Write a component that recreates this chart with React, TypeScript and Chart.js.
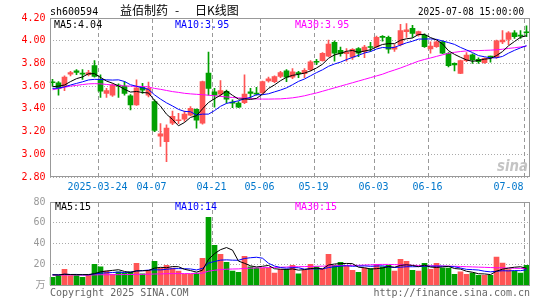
import React, { useEffect, useRef } from 'react';
import { Chart, registerables } from 'chart.js';
Chart.register(...registerables);

// ---------- data ----------
const dates = [
  '03-12','03-13','03-14','03-17','03-18','03-19','03-20','03-21','03-24','03-25',
  '03-26','03-27','03-28','03-31','04-01','04-02','04-03','04-07','04-08','04-09',
  '04-10','04-11','04-14','04-15','04-16','04-17','04-18','04-21','04-22','04-23',
  '04-24','04-25','04-28','04-29','04-30','05-06','05-07','05-08','05-09','05-12',
  '05-13','05-14','05-15','05-16','05-19','05-20','05-21','05-22','05-23','05-26',
  '05-27','05-28','05-29','05-30','06-03','06-04','06-05','06-06','06-09','06-10',
  '06-11','06-12','06-13','06-16','06-17','06-18','06-19','06-20','06-23','06-24',
  '06-25','06-26','06-27','06-30','07-01','07-02','07-03','07-04','07-07','07-08',
];

const opens = [
  3.635,3.63,3.60,3.705,3.735,3.715,3.70,3.78,3.655,3.535,
  3.52,3.605,3.60,3.515,3.435,3.59,3.52,3.465,3.16,3.11,
  3.275,3.295,3.31,3.345,3.395,3.275,3.715,3.55,3.53,3.555,
  3.455,3.45,3.455,3.55,3.535,3.54,3.645,3.64,3.685,3.735,
  3.68,3.72,3.71,3.745,3.815,3.825,3.865,3.985,3.915,3.885,
  3.855,3.93,3.905,3.945,3.945,4.035,4.03,3.925,3.965,4.08,
  4.11,4.05,4.05,3.927,3.947,3.99,3.89,3.80,3.713,3.824,
  3.875,3.835,3.806,3.86,3.854,3.99,4.012,4.07,4.045,4.075,
];
const highs = [
  3.66,3.64,3.69,3.73,3.745,3.745,3.74,3.825,3.70,3.58,
  3.62,3.62,3.64,3.525,3.655,3.625,3.635,3.48,3.27,3.26,
  3.38,3.36,3.38,3.42,3.40,3.645,3.90,3.58,3.65,3.565,
  3.48,3.465,3.70,3.58,3.59,3.645,3.68,3.69,3.73,3.745,
  3.755,3.73,3.755,3.825,3.835,3.895,4.005,4.00,3.945,3.93,
  3.93,3.94,3.96,3.985,4.04,4.045,4.04,3.965,4.145,4.15,
  4.135,4.085,4.06,3.99,4.00,4.00,3.895,3.805,3.83,3.895,
  3.885,3.85,3.85,3.865,4.005,4.09,4.08,4.09,4.09,4.13,
];
const lows = [
  3.60,3.52,3.56,3.69,3.70,3.66,3.69,3.68,3.50,3.50,
  3.51,3.50,3.52,3.39,3.43,3.535,3.505,3.20,3.07,2.935,
  3.26,3.27,3.29,3.34,3.23,3.265,3.52,3.415,3.51,3.45,
  3.41,3.41,3.445,3.49,3.52,3.535,3.635,3.63,3.675,3.64,
  3.665,3.675,3.675,3.735,3.79,3.82,3.86,3.82,3.865,3.82,
  3.835,3.86,3.85,3.905,3.94,3.995,3.89,3.905,3.955,4.03,
  4.03,4.04,3.94,3.89,3.94,3.885,3.77,3.735,3.71,3.815,
  3.80,3.80,3.80,3.81,3.845,3.975,3.965,4.02,4.02,4.035,
];
const closes = [
  3.63,3.58,3.68,3.72,3.72,3.705,3.72,3.685,3.555,3.56,
  3.61,3.60,3.535,3.435,3.585,3.565,3.58,3.21,3.18,3.23,
  3.335,3.30,3.355,3.405,3.30,3.64,3.58,3.52,3.56,3.485,
  3.45,3.415,3.53,3.535,3.53,3.64,3.665,3.685,3.72,3.68,
  3.725,3.71,3.74,3.815,3.81,3.89,3.97,3.89,3.885,3.90,
  3.925,3.89,3.945,3.94,4.03,4.03,3.925,3.945,4.09,4.095,
  4.065,4.08,3.947,3.953,3.99,3.89,3.78,3.786,3.824,3.874,
  3.83,3.815,3.845,3.855,4.0,4.006,4.07,4.035,4.04,4.07,
];
// closes of the sessions just before the window (for the start of MA5 / MA10)
const priorCloses = [3.55,3.57,3.56,3.58,3.565,3.555,3.63,3.57,3.59];

const priceMA30 = [
  3.568,3.578,3.59,3.60,3.607,3.614,3.62,3.622,3.62,3.615,
  3.61,3.605,3.602,3.60,3.598,3.597,3.593,3.58,3.572,3.562,
  3.552,3.545,3.537,3.532,3.528,3.525,3.52,3.515,3.51,3.505,
  3.50,3.497,3.494,3.49,3.487,3.486,3.486,3.487,3.488,3.492,
  3.497,3.505,3.515,3.528,3.54,3.555,3.57,3.585,3.60,3.615,
  3.63,3.645,3.66,3.675,3.69,3.705,3.725,3.742,3.76,3.78,
  3.80,3.82,3.835,3.848,3.862,3.876,3.888,3.898,3.905,3.91,
  3.912,3.913,3.915,3.917,3.92,3.925,3.932,3.938,3.945,3.952,
];

const volumes = [
  7.9,9.5,15.6,9.5,9.5,7.9,9.8,20.3,17.8,13.7,
  10.8,13,12,13,21.3,11.1,14.6,23.2,16.8,19.4,
  16.8,13.7,10.8,10.8,12,26,65.4,38.4,29.8,22.2,
  13.7,12.7,27.9,17.8,16.8,16.8,16.8,12,15.6,15.6,
  19.4,11.1,14.6,20.3,17.8,15.6,29.8,19.4,22.2,18.7,
  14.6,12.7,16.8,16.2,20.3,17.8,19.4,13.7,25.1,23.2,
  14.6,13.7,21.3,15.6,21.3,16.8,16.8,10.8,13,10.8,
  12,9.8,9.8,9.8,27.2,21.5,15.2,13.9,12,19.3,
];
const priorVolumes = [11,10,12,9,11,10,12,11,10];
const volMA30 = [
  10.0,10.0,10.1,10.1,10.1,10.0,10.0,10.2,10.3,10.3,
  10.4,10.4,10.5,10.5,10.7,10.7,10.8,11.0,11.1,11.3,
  11.4,11.4,11.4,11.4,11.5,11.9,13.7,14.6,15.2,15.6,
  15.8,15.9,16.4,16.6,16.8,17.0,17.2,17.3,17.5,17.7,
  17.9,18.0,18.1,18.3,18.4,18.5,18.8,18.9,19.1,19.2,
  19.3,19.3,19.6,19.8,20.1,20.2,20.2,20.0,19.9,19.7,
  19.4,19.2,19.0,18.9,18.8,18.7,18.6,18.4,18.2,18.0,
  17.8,17.6,17.4,17.2,17.0,16.9,16.7,16.5,16.4,16.2,
];

const xTickIdx = [8, 17, 27, 35, 44, 54, 63, 79];
const xTickText = ['2025-03-24', '04-07', '04-21', '05-06', '05-19', '06-03', '06-16', '07-08'];
const priceLegend = ['MA5:4.04', 'MA10:3.95', 'MA30:3.95'];
const volLegend = ['MA5:15', 'MA10:14', 'MA30:15'];
const titleCode = 'sh600594';
const titleName = '益佰制药';
const titleKind = '日K线图';
const titleTime = '2025-07-08 15:00:00';

// ---------- style ----------
const UP = '#ff5555';
const DOWN = '#00a000';
const MA_COLORS = ['#000000', '#0000ff', '#ff00ff'];
const GRID = '#aaaaaa';
const VGRID = '#999999';
const FRAME = '#999999';
const MONO = '"DejaVu Sans Mono", "Noto Sans CJK SC", monospace';
const CJK = '"Noto Sans CJK SC", sans-serif';

function movingAvg(values: number[], prior: number[], n: number) {
  const all = prior.concat(values);
  return values.map((_, i) => {
    const end = prior.length + i + 1;
    const s = all.slice(Math.max(0, end - n), end);
    return s.reduce((a, b) => a + b, 0) / s.length;
  });
}

const candleColors = closes.map((c, i) => (c >= opens[i] ? UP : DOWN));
const tickTextAt = (i: number) => {
  const k = xTickIdx.indexOf(i);
  return k >= 0 ? xTickText[k] : '';
};

function xAxis(showLabels: boolean, height: number) {
  return {
    type: 'category',
    offset: true,
    grid: { display: false, drawTicks: false },
    border: { display: false },
    ticks: showLabels
      ? {
          autoSkip: false,
          maxRotation: 0,
          minRotation: 0,
          align: 'inner',
          labelOffset: -3,
          padding: 4,
          color: '#0077cc',
          font: { family: MONO, size: 10 },
          callback: (_v: any, i: number) => tickTextAt(i),
        }
      : { display: false },
    afterFit: (s: any) => {
      s.height = height;
    },
  };
}

function lineDs(data: number[], color: string) {
  return {
    type: 'line',
    data,
    borderColor: color,
    borderWidth: 1,
    pointRadius: 0,
    tension: 0,
    fill: false,
    order: 0,
  };
}

// left edge (pixel) of session i's slot, from the x scale, with a chart-area fallback
function slotLeft(chart: any, i: number) {
  const xs = chart.scales.x;
  const a = chart.chartArea;
  let p = NaN;
  if (xs) {
    const c0 = Number(xs.getPixelForTick(i));
    const c1 = Number(xs.getPixelForTick(1));
    const cz = Number(xs.getPixelForTick(0));
    if (isFinite(c0) && isFinite(c1) && isFinite(cz)) p = c0 - (c1 - cz) / 2;
  }
  if (!isFinite(p)) p = a.left + (i * (a.right - a.left)) / dates.length;
  return p;
}

function vGrid(chart: any) {
  const ctx = chart.ctx;
  const a = chart.chartArea;
  ctx.save();
  ctx.strokeStyle = VGRID;
  ctx.lineWidth = 1;
  ctx.setLineDash([4, 3]);
  xTickIdx.forEach((i) => {
    const px = Math.round(slotLeft(chart, i)) + 0.5;
    ctx.beginPath();
    ctx.moveTo(px, Math.round(a.top) + 1);
    ctx.lineTo(px, Math.round(a.bottom) - 1);
    ctx.stroke();
  });
  ctx.restore();
}

function frame(chart: any) {
  const ctx = chart.ctx;
  const a = chart.chartArea;
  ctx.save();
  ctx.strokeStyle = FRAME;
  ctx.lineWidth = 1;
  ctx.setLineDash([]);
  const x0 = Math.round(a.left) + 0.5;
  const x1 = Math.round(a.right) - 0.5;
  const y0 = Math.round(a.top) + 0.5;
  const y1 = Math.round(a.bottom) - 0.5;
  ctx.strokeRect(x0, y0, x1 - x0, y1 - y0);
  ctx.restore();
}

const priceDeco = {
  id: 'priceDeco',
  beforeDatasetsDraw(chart: any) {
    vGrid(chart);
  },
  afterDraw(chart: any) {
    frame(chart);
    const ctx = chart.ctx;
    ctx.save();
    ctx.textBaseline = 'alphabetic';
    ctx.textAlign = 'left';
    ctx.fillStyle = '#000';
    ctx.font = `10px ${MONO}`;
    ctx.fillText(titleCode, 50, 15);
    ctx.font = `12px ${CJK}`;
    ctx.fillText(titleName, 120, 15);
    ctx.fillText('-', 175, 15);
    ctx.fillText(titleKind, 195, 15);
    ctx.font = `10px ${MONO}`;
    ctx.fillText(titleTime, 418, 15, 106);
    const xs = [54, 175, 295];
    priceLegend.forEach((t, i) => {
      ctx.fillStyle = MA_COLORS[i];
      ctx.fillText(t, xs[i], 28);
    });
    ctx.font = `italic bold 15px "DejaVu Sans", sans-serif`;
    ctx.fillStyle = 'rgba(190,190,190,0.9)';
    ctx.fillText('sina', 497, 171, 31);
    ctx.restore();
  },
};

const volDeco = {
  id: 'volDeco',
  beforeDatasetsDraw(chart: any) {
    vGrid(chart);
  },
  afterDraw(chart: any) {
    frame(chart);
    const ctx = chart.ctx;
    ctx.save();
    ctx.textBaseline = 'alphabetic';
    ctx.font = `10px ${MONO}`;
    const xs = [55, 175, 295];
    volLegend.forEach((t, i) => {
      ctx.fillStyle = MA_COLORS[i];
      ctx.fillText(t, xs[i], 18);
    });
    ctx.fillStyle = '#666';
    ctx.textAlign = 'left';
    ctx.fillText('Copyright 2025 SINA.COM', 50, 104);
    ctx.textAlign = 'right';
    ctx.fillText('http://finance.sina.com.cn', 530, 104);
    ctx.restore();
  },
};

function priceConfig(): any {
  const ma5 = movingAvg(closes, priorCloses, 5);
  const ma10 = movingAvg(closes, priorCloses, 10);
  return {
    type: 'bar',
    data: {
      labels: dates,
      datasets: [
        lineDs(ma5, MA_COLORS[0]),
        lineDs(ma10, MA_COLORS[1]),
        lineDs(priceMA30, MA_COLORS[2]),
        {
          type: 'bar',
          data: opens.map((o, i) => [o, closes[i]]),
          backgroundColor: candleColors,
          barThickness: 5,
          minBarLength: 1,
          grouped: false,
          order: 1,
        },
        {
          type: 'bar',
          data: lows.map((l, i) => [l, highs[i]]),
          backgroundColor: candleColors,
          barThickness: 1,
          grouped: false,
          order: 2,
        },
      ],
    },
    options: {
      animation: false,
      responsive: false,
      maintainAspectRatio: false,
      events: [],
      layout: { padding: { left: 0, right: 15.5, top: 18, bottom: 0 } },
      plugins: { legend: { display: false }, tooltip: { enabled: false } },
      scales: {
        x: xAxis(true, 15),
        y: {
          min: 2.8,
          max: 4.2,
          grid: { color: GRID, drawTicks: false, lineWidth: 1 },
          border: { display: false, dash: [1, 2] },
          ticks: {
            stepSize: 0.2,
            padding: 4,
            color: '#ff0000',
            font: { family: MONO, size: 10 },
            callback: (v: any) => Number(v).toFixed(2),
          },
          afterFit: (s: any) => {
            s.width = 49.5;
          },
        },
      },
    },
    plugins: [priceDeco],
  };
}

function volConfig(): any {
  const ma5 = movingAvg(volumes, priorVolumes, 5);
  const ma10 = movingAvg(volumes, priorVolumes, 10);
  return {
    type: 'bar',
    data: {
      labels: dates,
      datasets: [
        lineDs(ma5, MA_COLORS[0]),
        lineDs(ma10, MA_COLORS[1]),
        lineDs(volMA30, MA_COLORS[2]),
        {
          type: 'bar',
          data: volumes,
          backgroundColor: candleColors,
          barThickness: 5,
          grouped: false,
          order: 1,
        },
      ],
    },
    options: {
      animation: false,
      responsive: false,
      maintainAspectRatio: false,
      events: [],
      layout: { padding: { left: 0, right: 15.5, top: 9.5, bottom: 14.5 } },
      plugins: { legend: { display: false }, tooltip: { enabled: false } },
      scales: {
        x: xAxis(false, 0),
        y: {
          min: 0,
          max: 80,
          grid: { color: GRID, drawTicks: false, lineWidth: 1 },
          border: { display: false, dash: [1, 2] },
          ticks: {
            stepSize: 20,
            padding: 4,
            color: '#999999',
            font: { family: MONO, size: 10 },
            callback: (v: any) => (Number(v) === 0 ? '万' : String(v)),
          },
          afterFit: (s: any) => {
            s.width = 49.5;
          },
        },
      },
    },
    plugins: [volDeco],
  };
}

export default function App() {
  const priceRef = useRef<HTMLCanvasElement>(null);
  const volRef = useRef<HTMLCanvasElement>(null);
  useEffect(() => {
    const pc = new Chart(priceRef.current as HTMLCanvasElement, priceConfig());
    const vc = new Chart(volRef.current as HTMLCanvasElement, volConfig());
    return () => {
      pc.destroy();
      vc.destroy();
    };
  }, []);
  return (
    <div style={{ position: 'absolute', left: 0, top: 0, width: 545, height: 300, background: '#fff' }}>
      <canvas
        ref={priceRef}
        width={545}
        height={192}
        style={{ position: 'absolute', left: 0, top: 0, width: 545, height: 192 }}
      />
      <canvas
        ref={volRef}
        width={545}
        height={108}
        style={{ position: 'absolute', left: 0, top: 192, width: 545, height: 108 }}
      />
    </div>
  );
}
